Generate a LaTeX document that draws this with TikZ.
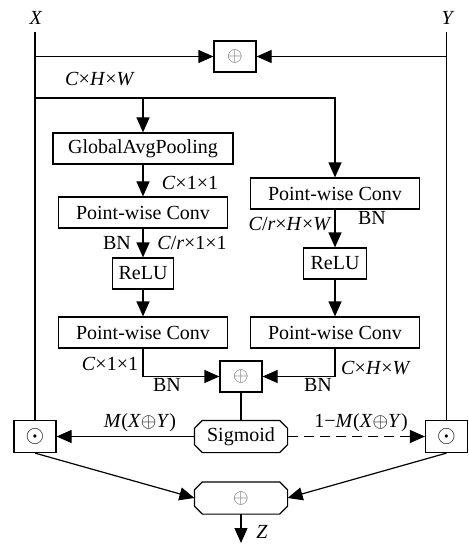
\documentclass[tikz,border=0pt]{standalone}
\usepackage{fontspec}
\setmainfont{Liberation Serif}
\usetikzlibrary{arrows.meta,calc}

\tikzset{
    blk/.style={draw, line width=0.6pt, inner sep=0pt, minimum height=15.5pt},
    oct/.style={inner sep=0pt, minimum width=46pt, minimum height=15.5pt},
    arr/.style={-{Triangle[length=7.5pt,width=6.5pt]}},
    lbl/.style={inner sep=0pt}
}
% octagonal frame round a node (cut corners of 4pt)
\newcommand{\octframe}[1]{%
    \draw ($(#1.north west)+(4pt,0)$) -- ($(#1.north east)+(-4pt,0)$) -- ($(#1.north east)+(0,-4pt)$)
        -- ($(#1.south east)+(0,4pt)$) -- ($(#1.south east)+(-4pt,0)$) -- ($(#1.south west)+(4pt,0)$)
        -- ($(#1.south west)+(0,4pt)$) -- ($(#1.north west)+(0,-4pt)$) -- cycle;}
\newcommand{\sumsym}{\textcolor{black!60}{$\oplus$}}
\newcommand{\mulsym}{{\large$\odot$}}

\begin{document}
\begin{tikzpicture}[x=0.5pt, y=-0.5pt, line width=0.6pt, font=\fontsize{10}{12}\selectfont]
    \useasboundingbox (0,0) rectangle (468,545); % page = reference size

    % inputs
    \node[lbl] (lX) at (36,18) {\textit{X}};
    \node[lbl] (lY) at (448,18) {\textit{Y}};
    \coordinate (xtop) at (35,32);
    \coordinate (ytop) at (446.5,32);
    \coordinate (split) at (35,98);

    % blocks
    \node[blk, minimum width=21pt] (addT) at (235,56.5) {\sumsym};
    \node[blk, minimum width=90pt] (gap) at (143,148.5) {GlobalAvgPooling};
    \node[blk, minimum width=84.5pt] (pwcL1) at (143,212.5) {Point-wise Conv};
    \node[blk, minimum width=30.5pt] (reluL) at (143,273.5) {ReLU};
    \node[blk, minimum width=84.5pt] (pwcL2) at (143,332.5) {Point-wise Conv};
    \node[blk, minimum width=84.5pt] (pwcR1) at (335,193.5) {Point-wise Conv};
    \node[blk, minimum width=31.5pt] (reluR) at (335,263.5) {ReLU};
    \node[blk, minimum width=84.5pt] (pwcR2) at (335,332.5) {Point-wise Conv};
    \node[blk, minimum width=21pt] (addM) at (241,376.5) {\sumsym};
    \node[oct] (sig) at (241,436.5) {Sigmoid};
    \node[blk, minimum width=21pt, minimum height=16pt] (mulL) at (35,436.5) {\mulsym};
    \node[blk, minimum width=21pt, minimum height=16pt] (mulR) at (446.5,436.5) {\mulsym};
    \node[oct] (addB) at (241,498) {\sumsym};
    \octframe{sig}
    \octframe{addB}
    \coordinate (zend) at (241,543);

    % labels
    \node[lbl] (sTop) at (100,79) {\textit{C}×\textit{H}×\textit{W}};
    \node[lbl] (sGap) at (190,183) {\textit{C}×1×1};
    \node[lbl] (bnL1) at (117,243) {BN};
    \node[lbl] (sL1) at (192,243) {\textit{C}/\textit{r}×1×1};
    \node[lbl] (sR1) at (290,224) {\textit{C}/\textit{r}×\textit{H}×\textit{W}};
    \node[lbl] (bnR1) at (372,218) {BN};
    \node[lbl] (sL2) at (110,364) {\textit{C}×1×1};
    \node[lbl] (bnL2) at (167,385) {BN};
    \node[lbl] (sR2) at (376,368) {\textit{C}×\textit{H}×\textit{W}};
    \node[lbl] (bnR2) at (318,385) {BN};
    \node[lbl] (mXY) at (140,423) {\textit{M}(\textit{X}$\oplus$\textit{Y})};
    \node[lbl] (nXY) at (361,423) {1−\textit{M}(\textit{X}$\oplus$\textit{Y})};
    \node[lbl] (lZ) at (262,532) {\textit{Z}};

    % connectors
    \draw (xtop) -- (mulL);
    \draw (ytop) -- (mulR);
    \draw[arr] (xtop |- addT) -- (addT);
    \draw[arr] (ytop |- addT) -- (addT);
    \draw[arr] (split) -| (pwcR1);
    \draw[arr] (split -| gap) -- (gap);
    \draw[arr] (gap) -- (pwcL1);
    \draw[arr] (pwcL1) -- (reluL);
    \draw[arr] (reluL) -- (pwcL2);
    \draw[arr] (pwcR1) -- (reluR);
    \draw[arr] (reluR) -- (pwcR2);
    \draw[arr] (pwcL2) |- (addM);
    \draw[arr] (pwcR2) |- (addM);
    \draw (addM) -- (sig);
    \draw[arr] (sig) -- (mulL);
    \draw[arr, dash pattern=on 5pt off 3pt] (sig) -- (mulR);
    \draw[arr] (mulL.south) -- (addB.west);
    \draw[arr] (mulR.south) -- (addB.east);
    \draw[arr] (addB) -- (zend);
\end{tikzpicture}
\end{document}
